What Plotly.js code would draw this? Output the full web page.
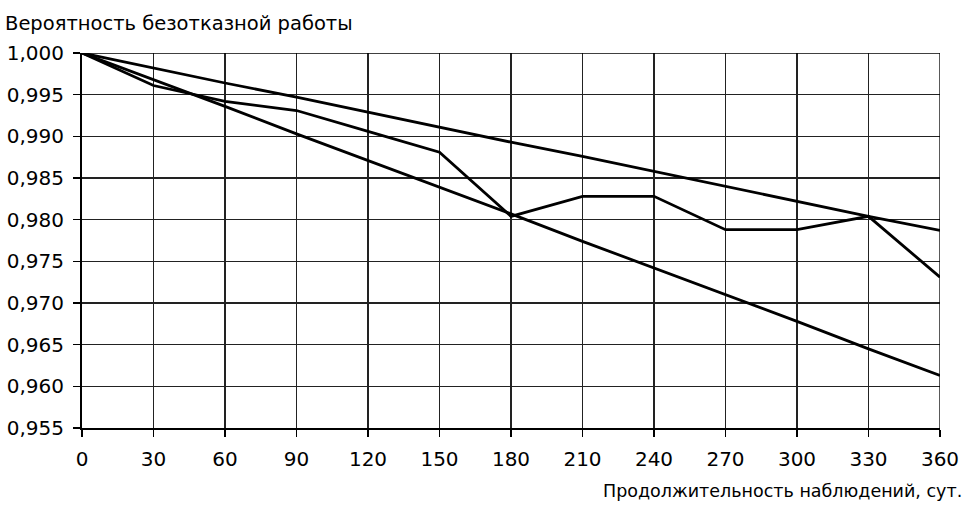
<!DOCTYPE html>
<html>
<head>
<meta charset="utf-8">
<script src="https://cdn.plot.ly/plotly-3.0.1.min.js"></script>
<style>html,body{margin:0;padding:0;background:#fff;}#chart{width:972px;height:506px;}</style>
</head>
<body>
<div id="chart"></div>
<script>
const days = [0, 30, 60, 90, 120, 150, 180, 210, 240, 270, 300, 330, 360];
const upperCurve = [1.0, 0.9982, 0.9964, 0.9947, 0.9929, 0.9911, 0.9893, 0.9876, 0.9858, 0.9840, 0.9822, 0.9804, 0.9787];
const observed = [1.0, 0.9961, 0.9942, 0.9931, 0.9906, 0.9881, 0.9804, 0.9828, 0.9828, 0.9788, 0.9788, 0.9804, 0.9731];
const lowerCurve = [1.0, 0.9968, 0.9936, 0.9903, 0.9871, 0.9839, 0.9807, 0.9774, 0.9742, 0.9710, 0.9678, 0.9645, 0.9613];
const xTicks = [0, 30, 60, 90, 120, 150, 180, 210, 240, 270, 300, 330, 360];
const yTicks = [0.955, 0.960, 0.965, 0.970, 0.975, 0.980, 0.985, 0.990, 0.995, 1.000];
const yTitle = "Вероятность безотказной работы";
const xTitle = "Продолжительность наблюдений, сут.";

const lineStyle = {color: "#000", width: 2.8};
const traces = [
  {x: days, y: upperCurve, mode: "lines", line: lineStyle, showlegend: false},
  {x: days, y: observed, mode: "lines", line: lineStyle, showlegend: false},
  {x: days, y: lowerCurve, mode: "lines", line: lineStyle, showlegend: false}
];
const fam = "DejaVu Sans, sans-serif";
const layout = {
  width: 972, height: 506,
  margin: {l: 82, r: 32, t: 53, b: 78},
  paper_bgcolor: "#fff", plot_bgcolor: "#fff",
  separators: ", ",
  font: {family: fam, size: 20, color: "#000"},
  showlegend: false,
  xaxis: {
    range: [0, 360], tickvals: xTicks, ticktext: xTicks.map(String),
    showgrid: true, gridcolor: "#222", gridwidth: 1.3,
    showline: true, linecolor: "#000", linewidth: 2,
    ticks: "outside", ticklen: 7, tickwidth: 1.3, tickcolor: "#000",
    ticklabelstandoff: 5,
    tickfont: {family: fam, size: 20, color: "#000"},
    zeroline: false, fixedrange: true
  },
  yaxis: {
    range: [0.955, 1.0], tickvals: yTicks, tickformat: ".3f",
    showgrid: true, gridcolor: "#222", gridwidth: 1.3,
    showline: true, linecolor: "#000", linewidth: 2,
    ticks: "outside", ticklen: 7, tickwidth: 1.3, tickcolor: "#000",
    ticklabelstandoff: 5,
    tickfont: {family: fam, size: 20, color: "#000"},
    zeroline: false, fixedrange: true
  },
  shapes: [
    {type: "line", xref: "x", yref: "y", x0: 360, x1: 360, y0: 0.955, y1: 1.0, line: {color: "#000", width: 1.3}},
    {type: "line", xref: "x", yref: "y", x0: 0, x1: 360, y0: 1.0, y1: 1.0, line: {color: "#000", width: 1.3}}
  ],
  annotations: [
    {text: yTitle, xref: "paper", yref: "paper", x: -0.0915, y: 1.0, xanchor: "left", yanchor: "bottom", yshift: 16, showarrow: false, font: {family: fam, size: 19.5, color: "#000"}},
    {text: xTitle, xref: "paper", yref: "paper", x: 1.0, y: 0, xanchor: "right", yanchor: "top", yshift: -51, xshift: 24, showarrow: false, font: {family: fam, size: 17.5, color: "#000"}}
  ]
};
Plotly.newPlot("chart", traces, layout, {displayModeBar: false, staticPlot: true});
</script>
</body>
</html>
